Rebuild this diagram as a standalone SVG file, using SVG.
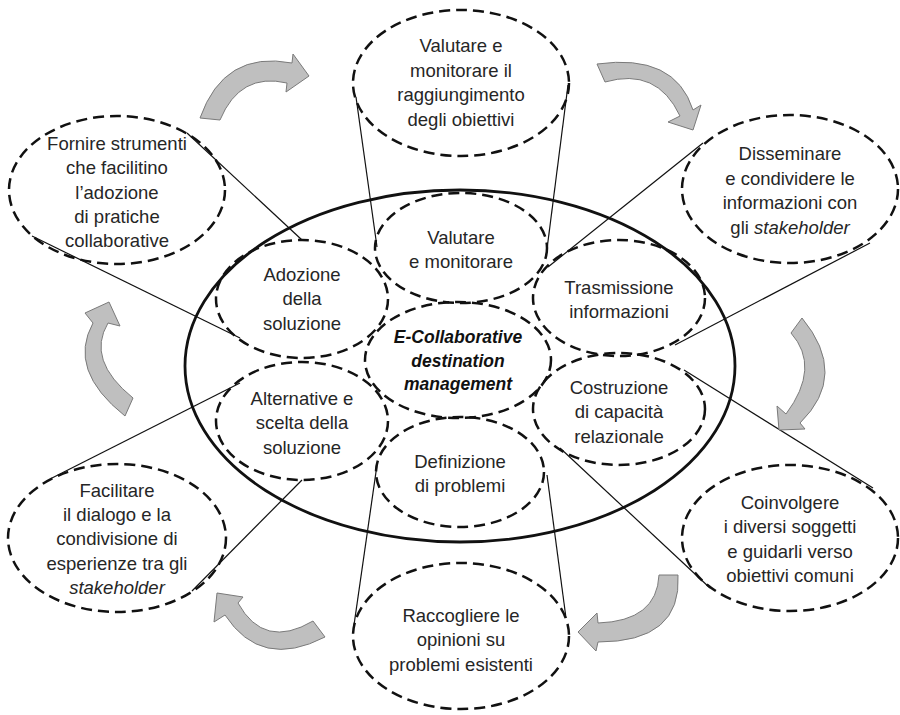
<svg xmlns="http://www.w3.org/2000/svg" width="900" height="715" viewBox="0 0 900 715">
<style>
.dash{fill:none;stroke:#111;stroke-width:2.5;stroke-dasharray:11 6}
.main{fill:none;stroke:#111;stroke-width:2.8}
.ln{stroke:#111;stroke-width:1.2;fill:none}
.arr{fill:#bfbfbf;stroke:#7a7a7a;stroke-width:1}
text{font-family:"Liberation Sans",Arial,sans-serif;font-size:18.5px;fill:#262626;text-anchor:middle}
.b{font-weight:bold;font-style:italic;font-size:17.5px;fill:#111}
.i{font-style:italic}
</style>
<rect width="900" height="715" fill="#fff"/>
<ellipse id="main" class="main" cx="460" cy="366" rx="275" ry="176"/>
<g id="connectors">
<line class="ln" x1="187" y1="133" x2="302" y2="240"/>
<line class="ln" x1="32" y1="236" x2="240" y2="338"/>
<line class="ln" x1="356" y1="97" x2="377" y2="247"/>
<line class="ln" x1="568" y1="85" x2="546" y2="257"/>
<line class="ln" x1="703" y1="143" x2="548" y2="267"/>
<line class="ln" x1="870" y1="243" x2="675" y2="345"/>
<line class="ln" x1="873" y1="488" x2="684" y2="370"/>
<line class="ln" x1="710" y1="588" x2="560" y2="448"/>
<line class="ln" x1="354" y1="625" x2="377" y2="465"/>
<line class="ln" x1="566" y1="618" x2="547" y2="475"/>
<line class="ln" x1="52" y1="478" x2="240" y2="383"/>
<line class="ln" x1="192" y1="591" x2="302" y2="480"/>
</g>
<g id="arrows">
<path class="arr" d="M200,118 Q224,50 292,63 L293,54 L309,76 L286,92 L287,83 Q240,72 220,120 Z"/>
<path class="arr" d="M597,64 Q675,53 693,110 L701,105 L693,130 L668,122 L680,116 Q657,67 605,82 Z"/>
<path class="arr" d="M802,318 Q849,375 800,423 L805,429 L779,430 L777,406 L786,414 Q821,367 791,333 Z"/>
<path class="arr" d="M678,575 Q682,642 598,642 L596,651 L578,632 L597,613 L598,623 Q657,621 659,575 Z"/>
<path class="arr" d="M325,637 Q261,670 225,615 L214,622 L217,593 L243,597 L238,603 Q264,650 313,621 Z"/>
<path class="arr" d="M125,416 Q67,370 93,323 L85,313 L109,302 L120,326 L108,323 Q86,360 133,398 Z"/>
</g>
<g id="n-valutare-obiettivi">
<ellipse class="dash" cx="461" cy="83" rx="108" ry="73"/>
<text x="461" y="52">Valutare e</text>
<text x="461" y="76.5">monitorare il</text>
<text x="461" y="101">raggiungimento</text>
<text x="461" y="125.5">degli obiettivi</text>
</g>
<g id="n-fornire">
<ellipse class="dash" cx="117" cy="190" rx="108" ry="74"/>
<text x="117" y="150">Fornire strumenti</text>
<text x="117" y="174">che facilitino</text>
<text x="117" y="198.5">l’adozione</text>
<text x="117" y="222.5">di pratiche</text>
<text x="117" y="247">collaborative</text>
</g>
<g id="n-disseminare">
<ellipse class="dash" cx="790" cy="189" rx="108" ry="74"/>
<text x="790" y="160">Disseminare</text>
<text x="790" y="184.5">e condividere le</text>
<text x="790" y="209">informazioni con</text>
<text x="790" y="233.5">gli <tspan class="i">stakeholder</tspan></text>
</g>
<g id="n-coinvolgere">
<ellipse class="dash" cx="790" cy="538" rx="108" ry="73"/>
<text x="790" y="508.5">Coinvolgere</text>
<text x="790" y="533">i diversi soggetti</text>
<text x="790" y="557.5">e guidarli verso</text>
<text x="790" y="582">obiettivi comuni</text>
</g>
<g id="n-raccogliere">
<ellipse class="dash" cx="461" cy="636" rx="108" ry="73"/>
<text x="461" y="621.5">Raccogliere le</text>
<text x="461" y="646">opinioni su</text>
<text x="461" y="670.5">problemi esistenti</text>
</g>
<g id="n-facilitare">
<ellipse class="dash" cx="117" cy="538" rx="109" ry="74"/>
<text x="117" y="496.5">Facilitare</text>
<text x="117" y="521">il dialogo e la</text>
<text x="117" y="545">condivisione di</text>
<text x="117" y="569.5">esperienze tra gli</text>
<text x="117" y="594" class="i">stakeholder</text>
</g>
<g id="n-valutare">
<ellipse class="dash" cx="461" cy="248" rx="86" ry="55"/>
<text x="461" y="243.5">Valutare</text>
<text x="461" y="268">e monitorare</text>
</g>
<g id="n-adozione">
<ellipse class="dash" cx="302" cy="299" rx="86" ry="59"/>
<text x="302" y="280.5">Adozione</text>
<text x="302" y="305">della</text>
<text x="302" y="329.5">soluzione</text>
</g>
<g id="n-trasmissione">
<ellipse class="dash" cx="619" cy="298" rx="86" ry="58"/>
<text x="619" y="293.5">Trasmissione</text>
<text x="619" y="318">informazioni</text>
</g>
<g id="n-center">
<ellipse class="dash" cx="458" cy="360" rx="93" ry="58"/>
<text x="458" y="343" class="b">E-Collaborative</text>
<text x="458" y="366.5" class="b">destination</text>
<text x="458" y="390" class="b">management</text>
</g>
<g id="n-alternative">
<ellipse class="dash" cx="302" cy="421" rx="86" ry="59"/>
<text x="302" y="404.5">Alternative e</text>
<text x="302" y="429">scelta della</text>
<text x="302" y="453.5">soluzione</text>
</g>
<g id="n-costruzione">
<ellipse class="dash" cx="619" cy="409" rx="86" ry="56"/>
<text x="619" y="393.5">Costruzione</text>
<text x="619" y="418">di capacità</text>
<text x="619" y="442.5">relazionale</text>
</g>
<g id="n-definizione">
<ellipse class="dash" cx="460" cy="472" rx="84" ry="55"/>
<text x="460" y="467.5">Definizione</text>
<text x="460" y="492">di problemi</text>
</g>
</svg>
